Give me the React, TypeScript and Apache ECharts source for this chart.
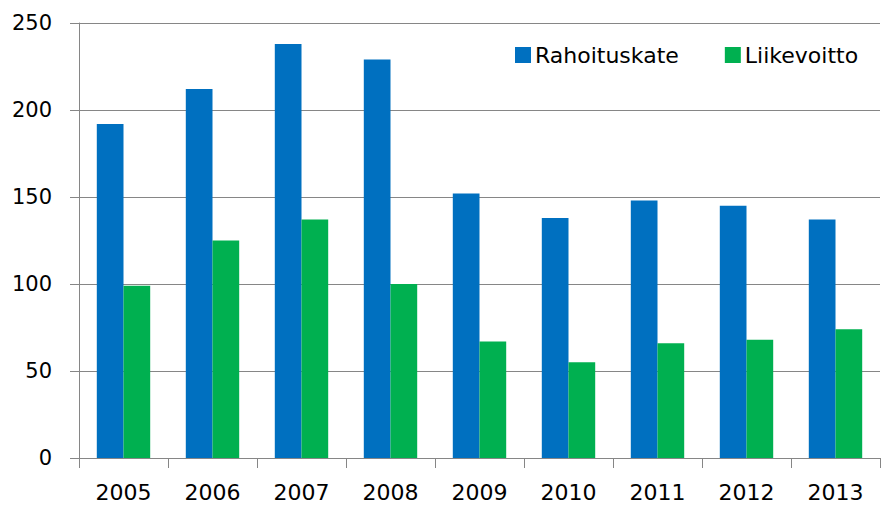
import React, { useEffect, useRef } from "react";
import * as echarts from "echarts";

const categories = ["2005", "2006", "2007", "2008", "2009", "2010", "2011", "2012", "2013"];
const rahoituskate = [192, 212, 238, 229, 152, 138, 148, 145, 137];
const liikevoitto = [99, 125, 137, 100, 67, 55, 66, 68, 74];

const FONT = "DejaVu Sans";

export default function App() {
  const ref = useRef<HTMLDivElement>(null);
  useEffect(() => {
    if (!ref.current) return;
    const chart = echarts.init(ref.current, null, { renderer: "svg" });
    chart.setOption({
      animation: false,
      backgroundColor: "#ffffff",
      textStyle: { fontFamily: FONT },
      grid: { left: 79, right: 4, top: 23, bottom: 49, containLabel: false },
      legend: {
        left: 515,
        top: 44,
        padding: 0,
        itemWidth: 16,
        itemHeight: 16,
        itemGap: 46,
        icon: "rect",
        textStyle: { fontSize: 22, color: "#000", fontFamily: FONT, padding: [0, 0, 0, -1] },
        data: ["Rahoituskate", "Liikevoitto"],
      },
      xAxis: {
        type: "category",
        data: categories,
        axisLine: { show: true, lineStyle: { color: "#868686", width: 1 } },
        axisTick: { show: true, length: 10, alignWithLabel: false, lineStyle: { color: "#868686" } },
        axisLabel: { fontSize: 22, color: "#000", margin: 23, fontFamily: FONT },
      },
      yAxis: {
        type: "value",
        min: 0,
        max: 250,
        interval: 50,
        axisLine: { show: true, lineStyle: { color: "#868686", width: 1 } },
        axisTick: { show: true, length: 9, lineStyle: { color: "#868686" } },
        axisLabel: { fontSize: 21, color: "#000", margin: 27, fontFamily: FONT },
        splitLine: { show: true, lineStyle: { color: "#868686", width: 1 } },
      },
      series: [
        {
          name: "Rahoituskate",
          type: "bar",
          data: rahoituskate,
          itemStyle: { color: "#0070C0" },
          barGap: "0%",
          barCategoryGap: "40%",
        },
        {
          name: "Liikevoitto",
          type: "bar",
          data: liikevoitto,
          itemStyle: { color: "#00B050" },
          barGap: "0%",
          barCategoryGap: "40%",
        },
      ],
    });
    return () => chart.dispose();
  }, []);
  return (
    <div
      ref={ref}
      style={{ position: "fixed", left: 0, top: 0, width: 884, height: 507 }}
    />
  );
}
